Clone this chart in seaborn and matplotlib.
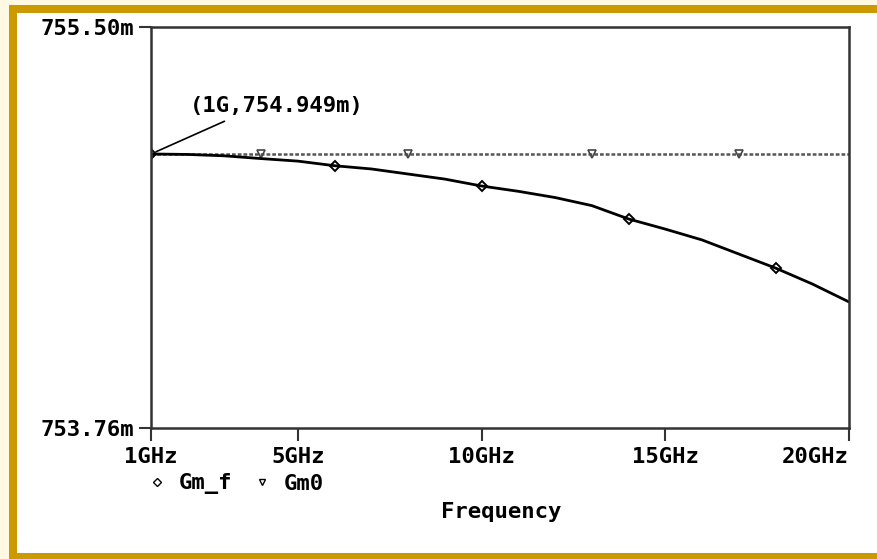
import numpy as np
import pandas as pd
import matplotlib
matplotlib.use("Agg")
import matplotlib.pyplot as plt
import seaborn as sns
from matplotlib.patches import Rectangle
from matplotlib.lines import Line2D

# ---- data (values in milli-units, frequency in GHz) ----
freq_ghz = [1, 2, 3, 4, 5, 6, 7, 8, 9, 10, 11, 12, 13, 14, 15, 16, 17, 18, 19, 20]
gm_f = [754.949, 754.947, 754.941, 754.929, 754.918, 754.898, 754.884, 754.862,
        754.840, 754.810, 754.787, 754.760, 754.725, 754.667, 754.623, 754.576,
        754.515, 754.454, 754.385, 754.307]
gm0 = [754.949, 754.949, 754.949, 754.949, 754.949, 754.949, 754.949, 754.949,
       754.949, 754.949, 754.949, 754.949, 754.949, 754.949, 754.949, 754.949,
       754.949, 754.949, 754.949, 754.949]
x_ticks = [1, 5, 10, 15, 20]
x_ticklabels = ["1GHz", "5GHz", "10GHz", "15GHz", "20GHz"]
y_ticks = [753.76, 755.50]
y_ticklabels = ["753.76m", "755.50m"]
series_names = ["Gm_f", "Gm0"]
annot_text = "(1G,754.949m)"

sns.set_style("white")
plt.rcParams["font.family"] = ["DejaVu Sans Mono"]
plt.rcParams["font.weight"] = "bold"
plt.rcParams["text.color"] = "black"

W, H = 877, 559
fig = plt.figure(figsize=(W / 100, H / 100), dpi=100, facecolor="#fff8e3")
fig.patches.append(Rectangle((9 / W, 0), 1, 1 - 5 / H, transform=fig.transFigure,
                             facecolor="#cc9900", edgecolor="none", zorder=-3))
fig.patches.append(Rectangle((17 / W, 6 / H), 1, 1 - 13 / H - 6 / H, transform=fig.transFigure,
                             facecolor="white", edgecolor="none", zorder=-2))

ax = fig.add_axes([151 / W, 1 - 428 / H, (849 - 151) / W, (428 - 27) / H])
ax.set_facecolor("white")

df = pd.DataFrame({"freq": freq_ghz, "Gm_f": gm_f, "Gm0": gm0})

sns.lineplot(data=df, x="freq", y="Gm0", ax=ax, color="#555555", lw=1.8,
             linestyle=(0, (1.5, 0.8)), legend=False, marker="v", markevery=[3, 7, 12, 16],
             markersize=6, markerfacecolor="none", markeredgecolor="#444444", markeredgewidth=1.2)
sns.lineplot(data=df, x="freq", y="Gm_f", ax=ax, color="black", lw=2.0,
             legend=False, marker="D", markevery=[0, 5, 9, 13, 17],
             markersize=5, markerfacecolor="none", markeredgecolor="black", markeredgewidth=1.4)

ax.set_xlim(1, 20)
ax.set_ylim(753.76, 755.50)
ax.set_xticks(x_ticks)
ax.set_xticklabels(x_ticklabels)
ax.set_yticks(y_ticks)
ax.set_yticklabels(y_ticklabels)
ax.get_xticklabels()[-1].set_horizontalalignment("right")
ax.set_xlabel("")
ax.set_ylabel("")
for s in ax.spines.values():
    s.set_visible(True)
    s.set_color("#333333")
    s.set_linewidth(1.8)
ax.tick_params(axis="x", direction="out", length=9, width=1.5, color="#333333",
               labelsize=16, pad=5, bottom=True, labelcolor="black")
ax.tick_params(axis="y", direction="out", length=9, width=1.5, color="#333333",
               labelsize=16, pad=3, left=True, labelcolor="black")

ax.annotate(annot_text, xy=(freq_ghz[0], gm_f[0]), xytext=(2.06, 755.115),
            textcoords="data", fontsize=16, fontweight="bold", ha="left", va="bottom",
            arrowprops=dict(arrowstyle="-", color="black", lw=1.2, shrinkA=4, shrinkB=4,
                            relpos=(0.27, 0.0)))

handles = [
    Line2D([], [], ls="none", marker="D", markersize=4, markerfacecolor="none",
           markeredgecolor="black", markeredgewidth=1.0),
    Line2D([], [], ls="none", marker="v", markersize=5, markerfacecolor="none",
           markeredgecolor="black", markeredgewidth=1.0),
]
fig.legend(handles, series_names, loc="center left", bbox_to_anchor=(148 / W, 1 - 484 / H),
           ncol=2, frameon=False, fontsize=16, handlelength=0.8, handletextpad=0.6,
           columnspacing=0.9, borderpad=0, borderaxespad=0)

fig.text(501 / W, 1 - 512 / H, "Frequency", ha="center", va="center", fontsize=16,
         fontweight="bold")

fig.savefig("out.png", dpi=100, facecolor=fig.get_facecolor())
